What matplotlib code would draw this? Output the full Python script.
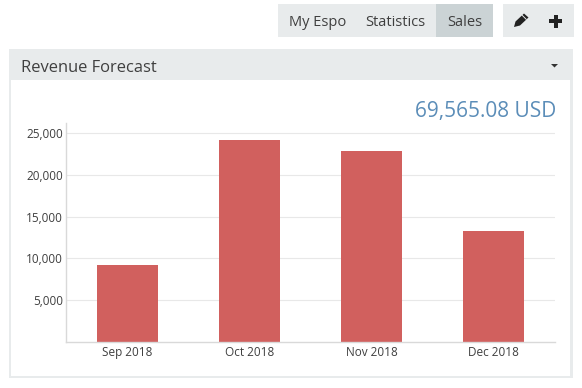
import matplotlib
matplotlib.use('Agg')
import matplotlib.pyplot as plt
from matplotlib.patches import Rectangle, Polygon

plt.rcParams['font.family'] = ['Open Sans', 'DejaVu Sans']

W, H = 582, 388

MONTHS = ['Sep 2018', 'Oct 2018', 'Nov 2018', 'Dec 2018']
REVENUE = [9200, 24200, 22870, 13295]
YTICKS = [5000, 10000, 15000, 20000, 25000]
TOTAL_LABEL = '69,565.08 USD'
TITLE = 'Revenue Forecast'
TABS = ['My Espo', 'Statistics', 'Sales']

TEXT = '#3f3f3f'
BAR = '#d1605e'
PANEL = '#e8ebec'
GRID = '#e8e8e8'
AXIS = '#d9d9d9'

fig = plt.figure(figsize=(W / 100, H / 100), dpi=100, facecolor='white')

# page layer in pixel coordinates, y going down like the screenshot
bg = fig.add_axes([0, 0, 1, 1])
bg.set_xlim(0, W)
bg.set_ylim(H, 0)
bg.axis('off')


def box(x0, y0, x1, y1, color):
    bg.add_patch(Rectangle((x0, y0), x1 - x0, y1 - y0, facecolor=color, edgecolor='none'))


# buttons top right
box(278, 4, 493, 37, PANEL)
box(436, 4, 493, 37, '#cbd3d5')
box(503, 4, 574, 37, PANEL)
for label, cx in zip(TABS, [317.5, 395.5, 464.5]):
    bg.text(cx, 22.5, label, fontsize=10.5, color=TEXT, ha='center', va='center')
# pencil icon
bg.add_patch(Polygon([(514, 27), (515.5, 21.5), (524, 13.5), (528.5, 17.5), (520, 25.5)],
                     facecolor='#222222', edgecolor='none'))
bg.plot([522.2, 526.2], [15.3, 19.3], color=PANEL, linewidth=0.7)
# plus icon
box(549, 19, 562, 23, '#222222')
box(553.5, 14.5, 557.5, 27.5, '#222222')

# panel
box(9, 49, 573, 378, PANEL)
box(11, 80, 570, 376, 'white')
bg.text(21, 68.5, TITLE, fontsize=11.85, color=TEXT, ha='left', va='center')
bg.add_patch(Polygon([(551, 64), (558, 64), (554.5, 67.5)], facecolor='#333333', edgecolor='none'))
bg.text(556, 111.5, TOTAL_LABEL, fontsize=15, color='#5b8db8', ha='right', va='center')

# chart
L, R, T, B = 66, 555, 123, 342
ax = fig.add_axes([L / W, 1 - B / H, (R - L) / W, (B - T) / H])
ax.patch.set_alpha(0)
ax.set_axisbelow(True)
x = list(range(len(MONTHS)))
ax.bar(x, REVENUE, width=0.5, color=BAR)
ax.set_xlim(-0.5, 3.5)
ax.set_ylim(0, 26200)
ax.set_xticks(x)
ax.set_xticklabels(MONTHS)
ax.set_yticks(YTICKS)
ax.set_yticklabels([f'{v:,}' for v in YTICKS])
ax.tick_params(length=0, labelsize=8.5, labelcolor=TEXT)
ax.tick_params(axis='x', pad=3)
ax.tick_params(axis='y', pad=2)
ax.grid(axis='y', color=GRID, linewidth=0.8)
for side in ['top', 'right']:
    ax.spines[side].set_visible(False)
for side in ['left', 'bottom']:
    ax.spines[side].set_color(AXIS)
    ax.spines[side].set_linewidth(1)

fig.savefig('out.png', dpi=100)
